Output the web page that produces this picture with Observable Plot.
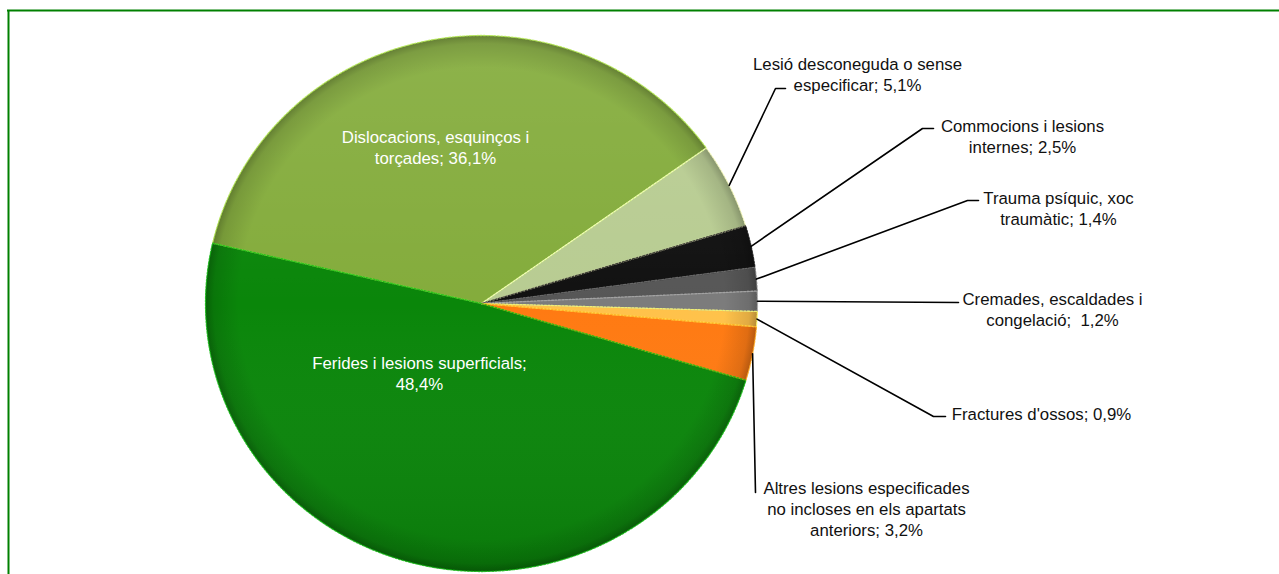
<!DOCTYPE html>
<html>
<head>
<meta charset="utf-8">
<script src="https://cdn.jsdelivr.net/npm/d3@7"></script>
<script src="https://cdn.jsdelivr.net/npm/@observablehq/plot@0.6"></script>
<style>
  html, body { margin: 0; padding: 0; background: #fff; }
  #chart svg { display: block; }
</style>
</head>
<body>
<div id="chart"></div>
<script>
// ---- data ----
const categories = [
  "Dislocacions, esquinços i torçades",
  "Lesió desconeguda o sense especificar",
  "Commocions i lesions internes",
  "Trauma psíquic, xoc traumàtic",
  "Cremades, escaldades i congelació",
  "Fractures d'ossos",
  "Altres lesions especificades no incloses en els apartats anteriors",
  "Ferides i lesions superficials"
];
const values = [36.1, 5.1, 2.5, 1.4, 1.2, 0.9, 3.2, 48.4];
// label text as printed (line breaks as in the original)
const labelNames = [
  "Dislocacions, esquinços i\ntorçades",
  "Lesió desconeguda o sense\nespecificar",
  "Commocions i lesions\ninternes",
  "Trauma psíquic, xoc\ntraumàtic",
  "Cremades, escaldades i\ncongelació",
  "Fractures d'ossos",
  "Altres lesions especificades\nno incloses en els apartats\nanteriors",
  "Ferides i lesions superficials"
];
const labelSeps = ["; ", "; ", "; ", "; ", ";  ", "; ", "; ", ";\n"];

// ---- styles / layout ----
const colors = ["#84AC3C", "#B8CC92", "#111111", "#575757", "#7C7C7C", "#FFC24A", "#FF7A12", "#0A860A"];
const W = 1279, H = 574;
const cx = 481, cy = 303, rx = 276, ry = 268;
const startDeg = -77;
const inside = [true, false, false, false, false, false, false, true];
const labelPos = [[435, 146], [857, 73], [1022, 135], [1058, 207], [1052, 308], [1041, 413], [866, 508], [419, 372]];
const leaderPath = [
  null,
  [[775, 88], [785, 88]],
  [[922, 128], [933, 128]],
  [[967, 200], [978, 200]],
  [[958, 302]],
  [[933, 416], [945, 416]],
  [[755, 492]],
  null
];

const fmt = v => v.toFixed(1).replace(".", ",") + "%";
const pt = a => [cx + rx * Math.sin(a), cy - ry * Math.cos(a)];

const arcs = d3.pie().sort(null).value(d => d)
  .startAngle(startDeg * Math.PI / 180)
  .endAngle(startDeg * Math.PI / 180 + 2 * Math.PI)(values);

// slice polygons
const slicePts = [];
arcs.forEach((a, i) => {
  const n = Math.max(4, Math.ceil((a.endAngle - a.startAngle) * 120));
  slicePts.push({k: i, x: cx, y: cy});
  for (let j = 0; j <= n; j++) {
    const [x, y] = pt(a.startAngle + (a.endAngle - a.startAngle) * j / n);
    slicePts.push({k: i, x, y});
  }
});
// full ellipse for shading overlay
const ellipse = d3.range(0, 361, 2).map(d => {
  const [x, y] = pt(d * Math.PI / 180);
  return {x, y};
});

// leader lines
const leaderPts = [];
arcs.forEach((a, i) => {
  if (!leaderPath[i]) return;
  const [x, y] = pt((a.startAngle + a.endAngle) / 2);
  leaderPts.push({k: i, x, y});
  leaderPath[i].forEach(([px, py]) => leaderPts.push({k: i, x: px, y: py}));
});

const labels = categories.map((c, i) => ({
  x: labelPos[i][0], y: labelPos[i][1],
  text: labelNames[i] + labelSeps[i] + fmt(values[i]),
  inside: inside[i]
}));

const plot = Plot.plot({
  width: W, height: H,
  margin: 0,
  x: {domain: [0, W], range: [0, W], axis: null},
  y: {domain: [0, H], range: [0, H], axis: null},
  style: {fontFamily: "'Liberation Sans', Arial, sans-serif", background: "#fff"},
  marks: [
    Plot.ruleY([10], {x1: 7, x2: W, stroke: "#008000", strokeWidth: 2}),
    Plot.ruleX([8], {y1: 10, y2: H, stroke: "#008000", strokeWidth: 2}),
    Plot.line(slicePts, {
      x: "x", y: "y", z: "k", curve: "linear-closed",
      fill: d => colors[d.k], stroke: "none"
    }),
    Plot.line(ellipse, {x: "x", y: "y", curve: "linear-closed", fill: "url(#shade)", stroke: "none"}),
    Plot.line(ellipse, {x: "x", y: "y", curve: "linear-closed", fill: "url(#rim)", stroke: "none"}),
    Plot.line(slicePts, {
      x: "x", y: "y", z: "k", curve: "linear-closed",
      fill: "none", stroke: d => d3.color(colors[d.k]).brighter(0.9).formatHex(),
      strokeWidth: 1.3, strokeDasharray: "2,1.5", strokeOpacity: 0.8
    }),
    Plot.line(leaderPts, {x: "x", y: "y", z: "k", stroke: "#000", strokeWidth: 1.6}),
    Plot.text(labels, {
      x: "x", y: "y", text: "text",
      fill: d => d.inside ? "#fff" : "#111",
      fontSize: 16.8, lineHeight: 1.25, textAnchor: "middle", lineAnchor: "middle"
    })
  ]
});

// gradients for the bevelled look
const svg = d3.select(plot);
const defs = svg.insert("defs", ":first-child");
const rim = defs.append("radialGradient").attr("id", "rim")
  .attr("cx", "50%").attr("cy", "50%").attr("r", "50%");
rim.append("stop").attr("offset", "0%").attr("stop-color", "#000").attr("stop-opacity", 0);
rim.append("stop").attr("offset", "88%").attr("stop-color", "#000").attr("stop-opacity", 0);
rim.append("stop").attr("offset", "97%").attr("stop-color", "#000").attr("stop-opacity", 0.12);
rim.append("stop").attr("offset", "100%").attr("stop-color", "#000").attr("stop-opacity", 0.28);
const shade = defs.append("linearGradient").attr("id", "shade")
  .attr("x1", 0).attr("y1", 0).attr("x2", 0).attr("y2", 1);
shade.append("stop").attr("offset", "0%").attr("stop-color", "#fff").attr("stop-opacity", 0.08);
shade.append("stop").attr("offset", "50%").attr("stop-color", "#fff").attr("stop-opacity", 0);
shade.append("stop").attr("offset", "100%").attr("stop-color", "#000").attr("stop-opacity", 0.1);

document.getElementById("chart").appendChild(plot);
</script>
</body>
</html>
